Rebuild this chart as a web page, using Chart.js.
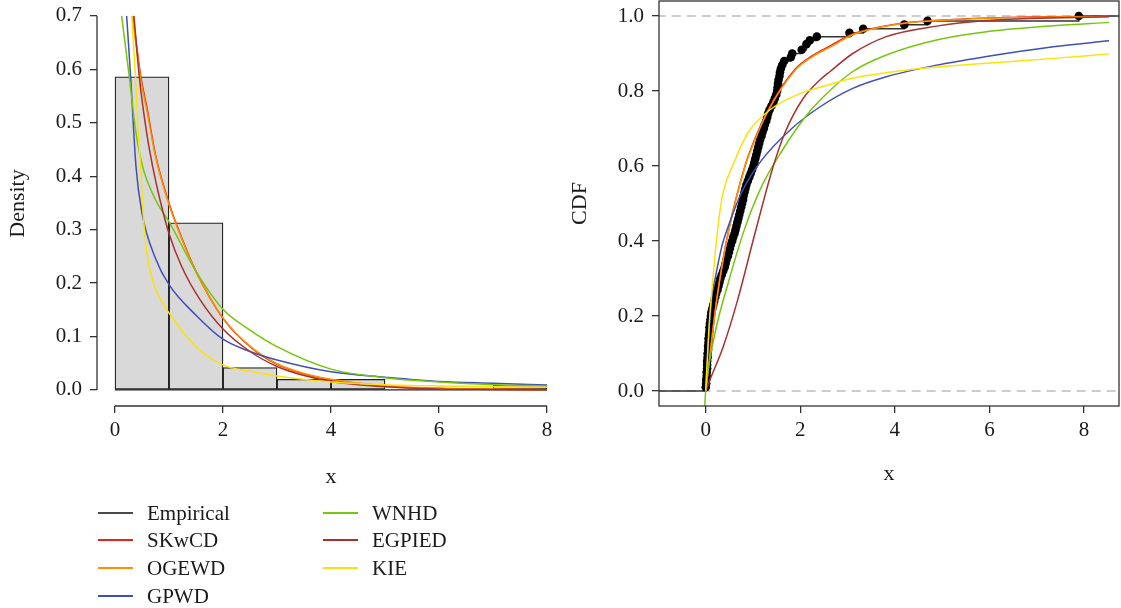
<!DOCTYPE html>
<html><head><meta charset="utf-8">
<script src="https://cdn.jsdelivr.net/npm/chart.js@4.4.0/dist/chart.umd.min.js"></script>
<style>
html,body{margin:0;padding:0;background:#fff;width:1121px;height:608px;overflow:hidden;position:relative;}
#c1{position:absolute;left:0;top:0;}
#c2{position:absolute;left:560px;top:0;}
.lg-text{position:absolute;font-family:"Liberation Serif","Times New Roman",serif;font-size:21px;color:#1a1a1a;white-space:nowrap;line-height:28px;height:28px;}
.lg-sw{position:absolute;height:2px;width:35px;}
</style></head><body>
<canvas id="c1" width="580" height="500"></canvas>
<canvas id="c2" width="561" height="500"></canvas>
<div id="legend"></div>
<script>
// ---------- DATA ----------
const histBreaks = [0,1,2,3,4,5,6,7,8];
const histDensity = [0.586,0.313,0.042,0.020,0.020,0,0,0.009];
const xTicks = [0,2,4,6,8];
const yTicksPdf = [0,0.1,0.2,0.3,0.4,0.5,0.6,0.7];
const yTicksCdf = [0,0.2,0.4,0.6,0.8,1.0];

// fitted densities (left panel)
const pdfX_SKwCD = [0.33,0.40,0.48,0.60,0.75,1.00,1.25,1.50,2.00,2.50,3.00,3.50,4.00,5.00,6.00,7.00,8.00];
const pdfY_SKwCD = [0.700,0.645,0.586,0.524,0.440,0.350,0.281,0.222,0.134,0.081,0.048,0.030,0.019,0.007,0.003,0.0012,0.0005];
const pdfX_OGEWD = [0.32,0.40,0.48,0.60,0.75,1.00,1.25,1.50,2.00,2.50,3.00,3.50,4.00,5.00,6.00,7.00,8.00];
const pdfY_OGEWD = [0.700,0.638,0.580,0.518,0.437,0.347,0.279,0.221,0.135,0.082,0.049,0.031,0.020,0.008,0.003,0.0013,0.0006];
const pdfX_GPWD = [0.216,0.29,0.389,0.50,0.747,1.00,1.50,2.00,2.50,3.00,4.00,5.00,6.00,7.00,8.00];
const pdfY_GPWD = [0.700,0.586,0.418,0.331,0.247,0.197,0.140,0.095,0.072,0.056,0.034,0.024,0.016,0.0125,0.0094];
const pdfX_WNHD = [0.123,0.265,0.389,0.512,0.75,1.00,1.50,2.00,2.50,3.00,4.00,5.00,6.00,7.00,8.00];
const pdfY_WNHD = [0.700,0.586,0.481,0.418,0.356,0.315,0.222,0.151,0.112,0.081,0.039,0.023,0.015,0.010,0.0075];
const pdfX_EGPIED = [0.352,0.45,0.587,0.698,0.833,1.00,1.235,1.574,2.00,2.50,3.00,3.50,4.00,5.00,6.00,7.00,8.00];
const pdfY_EGPIED = [0.700,0.586,0.481,0.418,0.356,0.293,0.231,0.169,0.114,0.072,0.044,0.027,0.016,0.006,0.002,0.001,0.0004];
const pdfX_KIE = [0.31,0.38,0.43,0.475,0.525,0.60,0.71,0.80,0.90,1.00,1.50,2.00,2.50,3.00,4.00,5.00,6.00,7.00,8.00];
const pdfY_KIE = [0.700,0.586,0.481,0.418,0.325,0.250,0.200,0.178,0.160,0.144,0.081,0.047,0.035,0.026,0.015,0.010,0.0075,0.006,0.005];

// empirical CDF points (right panel)
const ecdfX = [0.00,0.01,0.01,0.02,0.02,0.03,0.03,0.03,0.04,0.04,0.05,0.05,0.06,0.06,0.07,0.08,0.08,0.09,0.10,0.11,
  0.12,0.14,0.16,0.18,0.20,0.22,0.25,0.27,0.29,0.31,0.34,0.37,0.40,0.42,0.44,0.47,0.49,0.51,0.53,0.56,
  0.58,0.61,0.63,0.65,0.67,0.69,0.71,0.73,0.75,0.77,0.79,0.80,0.82,0.84,0.86,0.89,0.92,0.95,0.98,1.01,
  1.03,1.05,1.07,1.09,1.11,1.13,1.15,1.18,1.20,1.23,1.25,1.28,1.30,1.32,1.35,1.39,1.43,1.46,1.49,1.51,
  1.52,1.53,1.54,1.56,1.57,1.59,1.62,1.66,1.80,1.83,2.03,2.13,2.20,2.35,3.04,3.33,4.20,4.69,7.89];
const ecdfY = [0.010,0.020,0.030,0.040,0.050,0.060,0.070,0.080,0.090,0.100,0.110,0.120,0.130,0.140,0.150,0.160,0.170,0.180,0.190,0.200,
  0.210,0.220,0.230,0.240,0.250,0.260,0.270,0.280,0.290,0.300,0.310,0.320,0.330,0.340,0.350,0.360,0.370,0.380,0.390,0.400,
  0.410,0.420,0.430,0.440,0.450,0.460,0.470,0.480,0.490,0.500,0.510,0.520,0.530,0.540,0.550,0.560,0.570,0.580,0.590,0.600,
  0.610,0.620,0.630,0.640,0.650,0.660,0.670,0.680,0.690,0.700,0.710,0.720,0.730,0.740,0.750,0.760,0.770,0.780,0.790,0.800,
  0.810,0.820,0.830,0.840,0.850,0.860,0.870,0.880,0.890,0.900,0.910,0.925,0.935,0.945,0.955,0.966,0.977,0.987,1.000];

// fitted CDFs (right panel)
const cdfX_SKwCD = [0,0.10,0.23,0.47,0.83,1.00,1.32,1.89,2.24,2.63,3.11,4.17,5.23,6.64,8.53];
const cdfY_SKwCD = [0,0.110,0.243,0.420,0.600,0.660,0.750,0.858,0.893,0.920,0.952,0.981,0.991,0.997,0.999];
const cdfX_OGEWD = [0,0.10,0.23,0.47,0.83,1.00,1.32,1.89,2.24,2.63,3.11,4.17,5.23,6.64,8.53];
const cdfY_OGEWD = [0,0.105,0.240,0.418,0.598,0.657,0.747,0.855,0.890,0.917,0.950,0.980,0.990,0.996,0.999];
const cdfX_GPWD = [0,0.06,0.127,0.20,0.34,0.48,0.76,1.18,1.82,2.42,3.11,3.82,4.88,5.94,7.35,8.53];
const cdfY_GPWD = [0,0.140,0.250,0.300,0.385,0.440,0.530,0.615,0.700,0.758,0.807,0.838,0.869,0.892,0.918,0.934];
const cdfX_WNHD = [-0.02,0,0.197,0.48,0.83,1.18,1.61,2.10,2.42,3.11,3.82,4.88,5.94,7.35,8.53];
const cdfY_WNHD = [-0.040,0,0.154,0.290,0.435,0.545,0.640,0.730,0.776,0.852,0.896,0.936,0.958,0.974,0.983];
const cdfX_EGPIED = [0,0.09,0.37,0.68,1.02,1.43,1.68,2.06,2.42,2.63,3.11,3.82,4.88,5.94,7.00,8.53];
const cdfY_EGPIED = [0,0.030,0.118,0.245,0.410,0.600,0.690,0.780,0.830,0.852,0.900,0.945,0.973,0.988,0.994,0.998];
const cdfX_KIE = [0,0.02,0.07,0.15,0.27,0.37,0.60,0.90,1.36,2.03,2.42,3.11,4.53,5.94,7.35,8.53];
const cdfY_KIE = [0,0.050,0.170,0.296,0.450,0.530,0.610,0.690,0.750,0.795,0.810,0.834,0.860,0.874,0.887,0.899];

const refLevels = [0,1];
const legendNames = ['Empirical','SKwCD','OGEWD','GPWD','WNHD','EGPIED','KIE'];

// ---------- STYLE ----------
const FONT = '"Liberation Serif","Times New Roman",serif';
const INK = '#1a1a1a';
const AXIS = '#333333';
const COLORS = {Empirical:'#4a4a4a', SKwCD:'#e2241b', OGEWD:'#ff9100', GPWD:'#3f4fb8', WNHD:'#76c50e', EGPIED:'#a8322d', KIE:'#fbe30a'};
const pdfRange = {xmin:-0.333, xmax:8.333, ymin:-0.030, ymax:0.728};
const cdfRange = {xmin:-0.988, xmax:8.74, ymin:-0.04, ymax:1.04};

function pts(xs, ys){ return xs.map((x,i)=>({x:x, y:ys[i]})); }
function curve(name, xs, ys, order){
  return {type:'line', label:name, data:pts(xs,ys), borderColor:COLORS[name], borderWidth:1.5,
    pointRadius:0, fill:false, cubicInterpolationMode:'monotone', order:order};
}

const axisPlugin = {
  id:'axisLines',
  afterDraw(chart, args, o){
    const {ctx, chartArea:a, scales:{x,y}} = chart;
    ctx.save(); ctx.strokeStyle = AXIS; ctx.lineWidth = 1.3;
    if (o.mode === 'box'){
      ctx.strokeRect(a.left, a.top, a.right-a.left, a.bottom-a.top);
    } else if (o.mode === 'r') {
      ctx.beginPath();
      ctx.moveTo(a.left, y.getPixelForValue(o.y0)); ctx.lineTo(a.left, y.getPixelForValue(o.y1));
      ctx.moveTo(x.getPixelForValue(o.x0), a.bottom); ctx.lineTo(x.getPixelForValue(o.x1), a.bottom);
      ctx.stroke();
    }
    ctx.restore();
  }
};

function scaleX(range, titlePadBottom){
  return {type:'linear', min:range.xmin, max:range.xmax, offset:false,
    afterBuildTicks: s => { s.ticks = xTicks.map(v=>({value:v})); },
    afterFit: s => { s.height = 94; s.paddingLeft = 0; s.paddingRight = 0; s.paddingTop = 0; s.paddingBottom = 0; },
    grid:{display:true, offset:false, drawOnChartArea:false, drawTicks:true, tickLength:7, color:AXIS, lineWidth:1.3},
    border:{display:false},
    ticks:{font:{family:FONT,size:21}, color:INK, padding:5, maxRotation:0, autoSkip:false, callback:v=>String(v)},
    title:{display:true, text:'x', font:{family:FONT,size:22}, color:INK, padding:{top:0,bottom:titlePadBottom}}};
}
function scaleY(range, ticks, width, title, titlePadTop){
  return {type:'linear', min:range.ymin, max:range.ymax,
    afterBuildTicks: s => { s.ticks = ticks.map(v=>({value:v})); },
    afterFit: s => { s.width = width; s.paddingLeft = 0; s.paddingRight = 0; s.paddingTop = 0; s.paddingBottom = 0; },
    grid:{display:true, drawOnChartArea:false, drawTicks:true, tickLength:7, color:AXIS, lineWidth:1.3},
    border:{display:false},
    ticks:{font:{family:FONT,size:21}, color:INK, padding:8, autoSkip:false, callback:v=>Number(v).toFixed(1)},
    title:{display:true, text:title, font:{family:FONT,size:22}, color:INK, padding:{top:titlePadTop,bottom:0}}};
}

// ---------- LEFT: histogram + densities ----------
const histMid = histDensity.map((d,i)=>(histBreaks[i]+histBreaks[i+1])/2);
new Chart(document.getElementById('c1'), {
  type:'bar',
  data:{datasets:[
    {type:'bar', label:'hist', data:pts(histMid, histDensity), backgroundColor:'#d9d9d9', borderColor:'#222',
      borderWidth:1.3, borderSkipped:false, barPercentage:1, categoryPercentage:1, order:20},
    {type:'line', label:'base', data:[{x:histBreaks[0],y:0},{x:histBreaks[histBreaks.length-1],y:0}],
      borderColor:'#222', borderWidth:1.3, pointRadius:0, order:19},
    curve('SKwCD', pdfX_SKwCD, pdfY_SKwCD, 6),
    curve('OGEWD', pdfX_OGEWD, pdfY_OGEWD, 5),
    curve('GPWD', pdfX_GPWD, pdfY_GPWD, 4),
    curve('WNHD', pdfX_WNHD, pdfY_WNHD, 3),
    curve('EGPIED', pdfX_EGPIED, pdfY_EGPIED, 2),
    curve('KIE', pdfX_KIE, pdfY_KIE, 1)
  ]},
  options:{responsive:false, animation:false, devicePixelRatio:1, events:[],
    layout:{padding:{left:0, top:1, right:15, bottom:0}},
    plugins:{legend:{display:false}, tooltip:{enabled:false},
      axisLines:{mode:'r', x0:xTicks[0], x1:xTicks[xTicks.length-1], y0:yTicksPdf[0], y1:yTicksPdf[yTicksPdf.length-1]}},
    scales:{x:scaleX(pdfRange, 10), y:scaleY(pdfRange, yTicksPdf, 97, 'Density', 5)}},
  plugins:[axisPlugin]
});

// ---------- RIGHT: CDFs ----------
const ecdfData = [{x:cdfRange.xmin-1, y:0}].concat(pts(ecdfX, ecdfY), [{x:cdfRange.xmax+1, y:ecdfY[ecdfY.length-1]}]);
const ecdfRadius = ecdfData.map((p,i)=> (i===0 || i===ecdfData.length-1) ? 0 : 4.3);
const refSets = refLevels.map(v=>({type:'line', label:'ref'+v, data:[{x:cdfRange.xmin-1,y:v},{x:cdfRange.xmax+1,y:v}],
  borderColor:'#bdbdbd', borderWidth:1.5, borderDash:[9,6], pointRadius:0, order:30}));
new Chart(document.getElementById('c2'), {
  type:'scatter',
  data:{datasets: refSets.concat([
    {type:'line', label:'Empirical', data:ecdfData, stepped:true, borderColor:'#333', borderWidth:1.5,
      pointRadius:ecdfRadius, pointBackgroundColor:'#000', pointBorderWidth:0, order:25},
    curve('SKwCD', cdfX_SKwCD, cdfY_SKwCD, 6),
    curve('OGEWD', cdfX_OGEWD, cdfY_OGEWD, 5),
    curve('GPWD', cdfX_GPWD, cdfY_GPWD, 4),
    curve('WNHD', cdfX_WNHD, cdfY_WNHD, 3),
    curve('EGPIED', cdfX_EGPIED, cdfY_EGPIED, 2),
    curve('KIE', cdfX_KIE, cdfY_KIE, 1)
  ])},
  options:{responsive:false, animation:false, devicePixelRatio:1, events:[],
    layout:{padding:{left:0, top:1, right:2, bottom:0}},
    plugins:{legend:{display:false}, tooltip:{enabled:false}, axisLines:{mode:'box'}},
    scales:{x:scaleX(cdfRange, 13), y:scaleY(cdfRange, yTicksCdf, 99, 'CDF', 7)}},
  plugins:[axisPlugin]
});

// ---------- LEGEND ----------
const lg = document.getElementById('legend');
const colX = [{sw:98, tx:147},{sw:323, tx:372}];
const rowY = [513, 540, 568, 596];
legendNames.forEach((name,i)=>{
  const col = i < 4 ? 0 : 1, row = i < 4 ? i : i-4;
  const sw = document.createElement('div');
  sw.className = 'lg-sw';
  sw.style.left = colX[col].sw + 'px'; sw.style.top = (rowY[row]-1) + 'px';
  sw.style.background = COLORS[name];
  lg.appendChild(sw);
  const t = document.createElement('div');
  t.className = 'lg-text';
  t.style.left = colX[col].tx + 'px'; t.style.top = (rowY[row]-14) + 'px';
  t.textContent = name;
  lg.appendChild(t);
});
</script>
</body></html>
